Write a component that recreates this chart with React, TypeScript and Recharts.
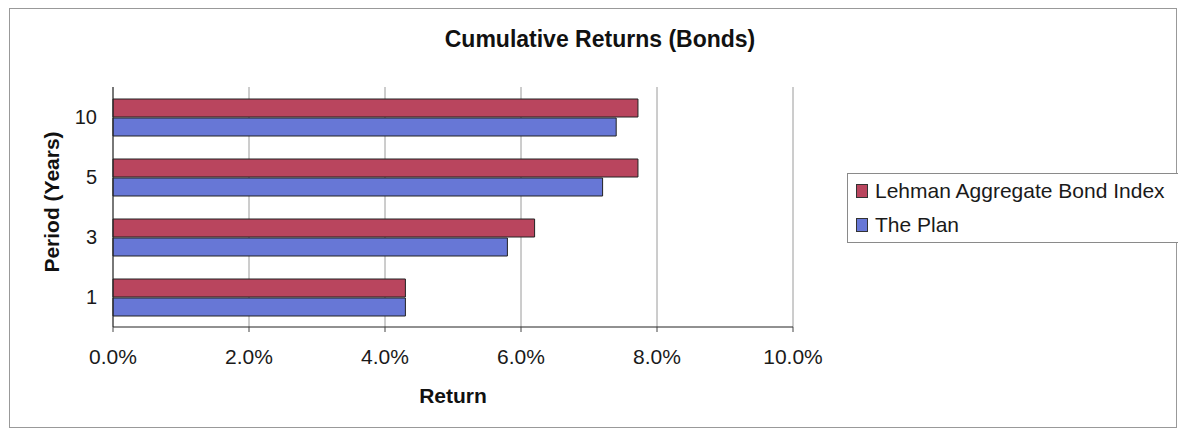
import { BarChart, Bar, XAxis, YAxis, CartesianGrid } from "recharts";

const periods = ["10", "5", "3", "1"];
const lehman = [7.72, 7.72, 6.2, 4.3];
const plan = [7.4, 7.2, 5.8, 4.3];
const xTicks = [0, 2, 4, 6, 8, 10];
const bandEdges = [1, 2, 3];

const FONT = '"Liberation Sans", Arial, sans-serif';
const RED = "#b9455e";
const BLUE = "#6777d6";

const data = periods.map((p, i) => ({ period: p, lehman: lehman[i], plan: plan[i] }));

const legendItems = [
  { label: "Lehman Aggregate Bond Index", color: RED },
  { label: "The Plan", color: BLUE },
];

function LegendBox() {
  return (
    <div
      style={{
        position: "absolute",
        left: 847,
        top: 173,
        width: 360,
        border: "1px solid #8a8a8a",
        background: "#fff",
        fontFamily: FONT,
        fontSize: 21,
        color: "#1a1a1a",
      }}
    >
      {legendItems.map((it) => (
        <div key={it.label} style={{ display: "flex", alignItems: "center", height: 34, paddingLeft: 8, whiteSpace: "nowrap" }}>
          <span
            style={{
              display: "inline-block",
              width: 12,
              height: 14,
              background: it.color,
              border: "1px solid #333",
              boxSizing: "border-box",
              marginRight: 7,
            }}
          />
          {it.label}
        </div>
      ))}
    </div>
  );
}

// rotated axis title, nudged left of the tick labels
function PeriodLabel(props: any) {
  const vb = props.viewBox || {};
  const cx = vb.x + 42;
  const cy = vb.y + vb.height / 2 - 5;
  return (
    <text
      x={cx}
      y={cy}
      transform={`rotate(-90 ${cx} ${cy})`}
      textAnchor="middle"
      dominantBaseline="central"
      fontFamily={FONT}
      fontSize={21}
      fontWeight="bold"
      fill="#111"
    >
      Period (Years)
    </text>
  );
}

// tick marks only, no text
const NoText = () => <g />;

export default function App() {
  return (
    <div style={{ position: "absolute", left: 0, top: 0, width: 1178, height: 433, background: "#fff", overflow: "hidden" }}>
      <div
        style={{
          position: "absolute",
          left: 9,
          top: 8,
          width: 1168,
          height: 420,
          border: "1px solid #999",
          boxSizing: "border-box",
        }}
      />
      <div
        style={{
          position: "absolute",
          left: 300,
          width: 600,
          top: 26,
          lineHeight: "26px",
          textAlign: "center",
          fontFamily: FONT,
          fontWeight: "bold",
          fontSize: 23,
          color: "#111",
        }}
      >
        Cumulative Returns (Bonds)
      </div>
      <BarChart
        width={1178}
        height={433}
        data={data}
        layout="vertical"
        margin={{ top: 87, right: 385, bottom: 30, left: 9 }}
        barCategoryGap="20%"
        barGap={1}
        style={{ position: "absolute", left: 0, top: 0, fontFamily: FONT }}
      >
        <CartesianGrid horizontal={false} stroke="#9a9a9a" />
        <XAxis
          type="number"
          domain={[0, 10]}
          ticks={xTicks}
          tickFormatter={(v: number) => `${v.toFixed(1)}%`}
          tick={{ fill: "#1a1a1a", fontSize: 21 }}
          tickSize={5}
          tickMargin={17}
          axisLine={{ stroke: "#222" }}
          tickLine={{ stroke: "#444" }}
          height={76}
          label={{ value: "Return", position: "insideBottom", offset: 0, fill: "#111", fontSize: 21, fontWeight: "bold" }}
        />
        <XAxis xAxisId="top" type="number" domain={[0, 10]} orientation="top" tick={false} axisLine={{ stroke: "#222" }} height={0} />
        <YAxis
          type="category"
          dataKey="period"
          width={104}
          tickLine={false}
          tickSize={6}
          tickMargin={10}
          tick={{ fill: "#1a1a1a", fontSize: 20 }}
          axisLine={{ stroke: "#222" }}
          label={<PeriodLabel />}
        />
        <YAxis
          yAxisId="edges"
          type="number"
          domain={[0, 4]}
          ticks={bandEdges}
          tick={NoText}
          tickSize={5}
          tickLine={{ stroke: "#555" }}
          axisLine={false}
          width={0}
        />
        <YAxis yAxisId="right" type="category" dataKey="period" orientation="right" tick={false} axisLine={{ stroke: "#8a8a8a" }} width={0} />
        <Bar dataKey="lehman" name="Lehman Aggregate Bond Index" fill={RED} stroke="#222" strokeWidth={1} isAnimationActive={false} />
        <Bar dataKey="plan" name="The Plan" fill={BLUE} stroke="#222" strokeWidth={1} isAnimationActive={false} />
      </BarChart>
      <LegendBox />
    </div>
  );
}
